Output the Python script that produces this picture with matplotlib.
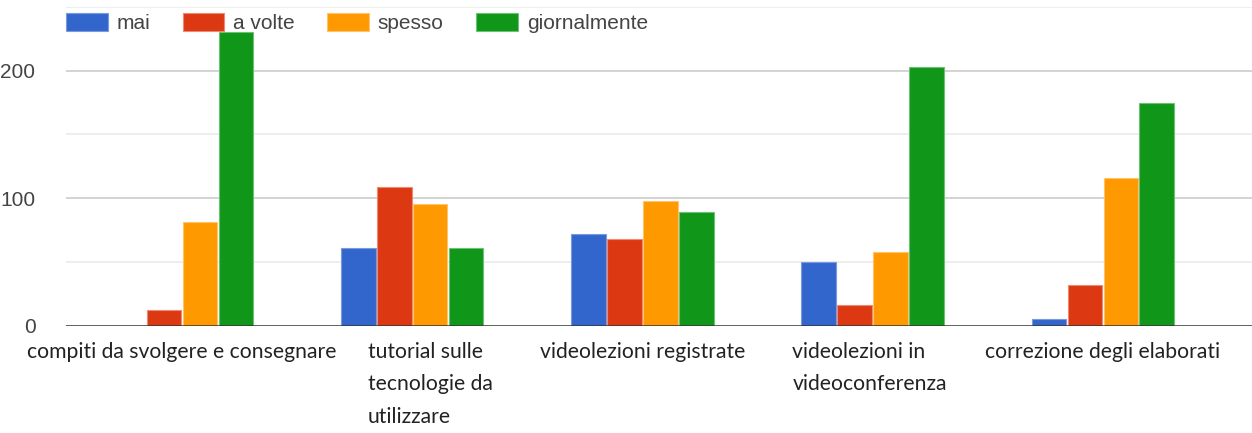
import matplotlib
matplotlib.use("Agg")
import matplotlib.pyplot as plt
import matplotlib.transforms as mtransforms
import numpy as np

categories = [
    "compiti da svolgere e consegnare",
    "tutorial sulle\ntecnologie da\nutilizzare",
    "videolezioni registrate",
    "videolezioni in\nvideoconferenza",
    "correzione degli elaborati",
]
series = ["mai", "a volte", "spesso", "giornalmente"]
mai = [0, 61, 72, 50, 5]
a_volte = [12, 109, 68, 16, 32]
spesso = [81, 95, 98, 58, 116]
giornalmente = [230, 61, 89, 203, 175]
y_ticks = [0, 100, 200]

colors = ["#3366cc", "#dc3912", "#ff9900", "#109618"]
edge_colors = ["#7a9ae0", "#ec8a75", "#ffc46b", "#6cc274"]

fig = plt.figure(figsize=(12.52, 4.33), dpi=100)
ax = fig.add_axes([66 / 1252, 107.5 / 433, 1 - 66 / 1252, (433 - 7 - 107.5) / 433])

x = np.arange(len(categories))
pitch = 0.156
width = 0.150
values = [mai, a_volte, spesso, giornalmente]
for k, (name, vals) in enumerate(zip(series, values)):
    ax.bar(x + (k - 1.5) * pitch, vals, width, color=colors[k],
           edgecolor=edge_colors[k], linewidth=0.8, label=name, zorder=3)

ax.set_xlim(-0.504, 4.648)
ax.set_ylim(0, 250)

# gridlines: majors darker, halves lighter
for v in range(50, 251, 50):
    c = "#cccccc" if v % 100 == 0 else "#ebebeb"
    ax.axhline(v, color=c, linewidth=1.2, zorder=1)
ax.axhline(0, color="#333333", linewidth=1.8, zorder=4)

for s in ax.spines.values():
    s.set_visible(False)

ax.set_yticks(y_ticks)
ax.set_yticklabels([str(t) for t in y_ticks], fontsize=15, color="#444444",
                   family="Liberation Sans")
ax.tick_params(axis="y", length=0, pad=22)
ax.tick_params(axis="x", length=0)
ax.set_xticks([])

# category labels
label_shift = [0, 18, 0, -3, 0]
for i, (cat, dx) in enumerate(zip(categories, label_shift)):
    off = mtransforms.ScaledTranslation(dx / 100, -16 / 100, fig.dpi_scale_trans)
    trans = mtransforms.blended_transform_factory(ax.transData, ax.transAxes) + off
    ax.text(i, 0, cat, transform=trans, ha="center", va="top", ma="left",
            fontsize=15.2, family="Lato", color="#222222", linespacing=1.8)

fig.legend(loc="center left", bbox_to_anchor=(66 / 1252, 1 - 23 / 433),
           ncol=4, frameon=False, borderpad=0, borderaxespad=0,
           handlelength=2.0, handleheight=0.95, handletextpad=0.43,
           columnspacing=1.55, prop={"family": "Liberation Sans", "size": 15},
           labelcolor="#444444")

fig.savefig("out.png", dpi=100)
